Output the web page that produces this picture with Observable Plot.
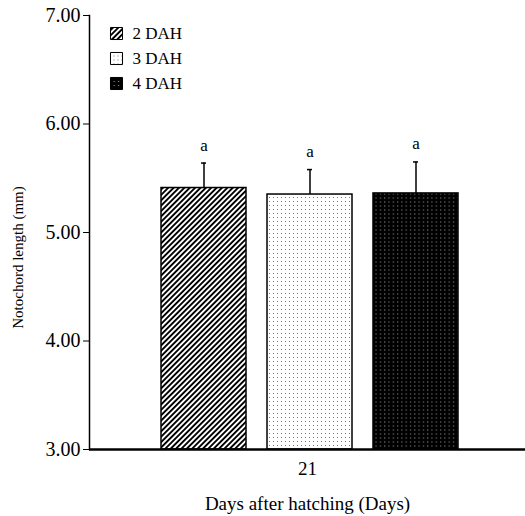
<!DOCTYPE html>
<html>
<head>
<meta charset="utf-8">
<script src="https://cdn.jsdelivr.net/npm/d3@7"></script>
<script src="https://cdn.jsdelivr.net/npm/@observablehq/plot@0.6"></script>
<style>
  html, body { margin: 0; padding: 0; background: #fff; }
  #chart svg { display: block; }
  #chart svg text { font-family: 'Liberation Serif', 'Times New Roman', serif; fill: #000; }
</style>
</head>
<body>
<div id="chart"></div>
<script>
// ---- data ----
const days = ["21"];
const series = ["2 DAH", "3 DAH", "4 DAH"];
const means = [5.41, 5.35, 5.36];
const errors = [0.23, 0.23, 0.29];
const sigLetters = ["a", "a", "a"];
const yTicks = [3, 4, 5, 6, 7];
const patternIds = ["pat-hatch", "pat-light", "pat-dark"];

const rows = series.map((s, i) => ({
  day: days[0], series: s, mean: means[i], upper: means[i] + errors[i], sig: sigLetters[i]
}));

const font = "'Liberation Serif', 'Times New Roman', serif";

const chart = Plot.plot({
  width: 525,
  height: 516,
  marginLeft: 89,
  marginRight: 0,
  marginTop: 15,
  marginBottom: 67,
  style: { fontFamily: font, fontSize: "17px", color: "#000", background: "#fff" },
  fx: { domain: days, padding: 0, label: null, axis: null },
  x: { domain: series, paddingInner: 0.2, paddingOuter: 0.64, align: 0.52, axis: null },
  y: { domain: [3, 7], ticks: yTicks, tickFormat: d3.format(".2f"), label: null },
  color: { domain: series, range: patternIds.map(id => `url(#${id})`) },
  marks: [
    Plot.axisY({ ticks: yTicks, tickFormat: d3.format(".2f"), tickSize: 6, tickPadding: 3, fontSize: 20, label: null }),
    Plot.axisFx({ anchor: "bottom", tickSize: 0, tickPadding: 12, fontSize: 19, label: null }),
    Plot.barY(rows, { fx: "day", x: "series", y1: yTicks[0], y2: "mean", fill: "series", stroke: "#000", strokeWidth: 1.5 }),
    Plot.ruleX(rows, { fx: "day", x: "series", y1: "mean", y2: "upper", stroke: "#000", strokeWidth: 1.5 }),
    Plot.tickY(rows, { fx: "day", x: "series", y: "upper", stroke: "#000", strokeWidth: 1.5, insetLeft: 40, insetRight: 40 }),
    Plot.text(rows, { fx: "day", x: "series", y: "upper", text: "sig", dy: -18, fontSize: 17 }),
    Plot.ruleY([yTicks[0]], { stroke: "#000", strokeWidth: 2.5 }),
    Plot.frame({ anchor: "left", stroke: "#000", strokeWidth: 1.5 }),
    // axis titles
    Plot.text(["Notochord length (mm)"], { frameAnchor: "left", textAnchor: "middle", lineAnchor: "middle", dx: -71, dy: 25, rotate: -90, fontSize: 15 }),
    Plot.text(["Days after hatching (Days)"], { frameAnchor: "bottom", textAnchor: "middle", lineAnchor: "middle", dy: 54, fontSize: 19 }),
    // legend
    ...series.map((s, i) => Plot.dot([s], {
      frameAnchor: "top-left", dx: 27, dy: 18 + i * 25, symbol: "square", r: 6.8,
      fill: `url(#${patternIds[i]})`, stroke: "#000", strokeWidth: 1
    })),
    ...series.map((s, i) => Plot.text([s], {
      frameAnchor: "top-left", dx: 43, dy: 18 + i * 25, text: d => d, textAnchor: "start", lineAnchor: "middle", fontSize: 17
    }))
  ]
});

// SVG pattern definitions for the bar fills
const svg = d3.select(chart.tagName.toLowerCase() === "svg" ? chart : chart.querySelector("svg"));
const defs = svg.insert("defs", ":first-child");
const hatch = defs.append("pattern").attr("id", "pat-hatch").attr("patternUnits", "userSpaceOnUse")
  .attr("width", 3.8).attr("height", 3.8).attr("patternTransform", "rotate(45)");
hatch.append("rect").attr("width", 3.8).attr("height", 3.8).attr("fill", "#fff");
hatch.append("rect").attr("width", 1.9).attr("height", 3.8).attr("fill", "#000");

const light = defs.append("pattern").attr("id", "pat-light").attr("patternUnits", "userSpaceOnUse")
  .attr("width", 4).attr("height", 4);
light.append("rect").attr("width", 4).attr("height", 4).attr("fill", "#fff");
light.append("rect").attr("x", 1).attr("y", 1).attr("width", 1).attr("height", 1).attr("fill", "#777");

const dark = defs.append("pattern").attr("id", "pat-dark").attr("patternUnits", "userSpaceOnUse")
  .attr("width", 4.3).attr("height", 4).attr("patternTransform", "translate(0.5,0.5)");
dark.append("rect").attr("width", 4.3).attr("height", 4).attr("fill", "#000");
dark.append("rect").attr("x", 1).attr("y", 1).attr("width", 1).attr("height", 1).attr("fill", "#aaa");

document.getElementById("chart").appendChild(chart);
</script>
</body>
</html>
